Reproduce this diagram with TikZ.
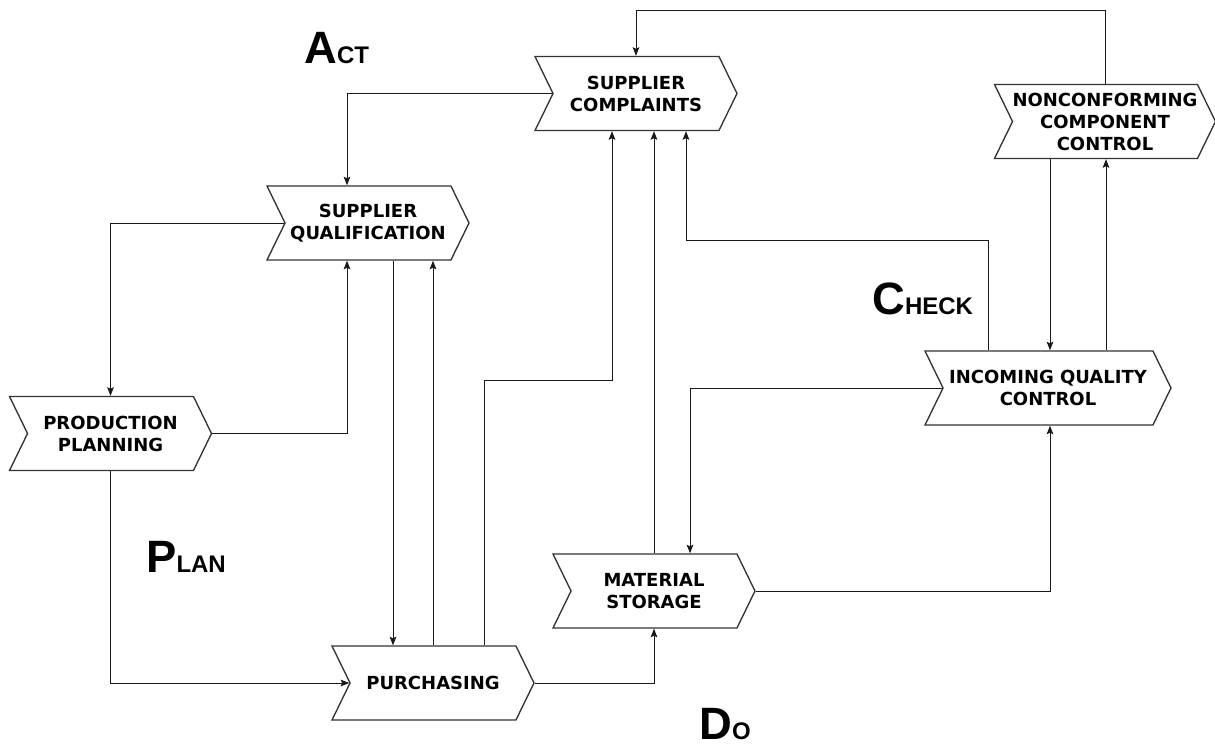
\documentclass[tikz,border=0pt]{standalone}
\usepackage{fontspec}
\setmainfont{DejaVu Sans}
\newfontfamily\phasefont{Liberation Sans}
\usetikzlibrary{shapes.symbols,arrows.meta}

\tikzset{
  stage/.style={signal, signal from=west, signal to=east, signal pointer angle=128,
    draw=black!80, line width=1pt, minimum width=151.5pt, minimum height=55.5pt,
    inner sep=0pt, align=center, font=\fontsize{13.5}{16.5}\selectfont\bfseries},
  link/.style={-{Stealth[length=6.5pt,width=5pt,inset=1.2pt]}, line width=0.75pt, black!90},
  phase/.style={anchor=base west, inner sep=0pt, font=\phasefont\bfseries}
}
\newcommand{\phaseword}[2]{{\fontsize{34}{34}\selectfont #1}{\fontsize{18}{18}\selectfont #2}}

\begin{document}
\begin{tikzpicture}[x=0.75pt, y=-0.75pt]
      \useasboundingbox (0,0) rectangle (1215,749);

      \node[stage] (pp) at (110.5,433.5) {PRODUCTION\\PLANNING};
      \node[stage] (sq) at (368,223) {SUPPLIER\\QUALIFICATION};
      \node[stage] (sc) at (636,93.5) {SUPPLIER\\COMPLAINTS};
      \node[stage] (nc) at (1105,121.5) {NONCONFORMING\\COMPONENT\\CONTROL};
      \node[stage, minimum width=184.5pt] (iqc) at (1048,388) {INCOMING QUALITY\\CONTROL};
      \node[stage] (ms) at (654,591) {MATERIAL\\STORAGE};
      \node[stage] (pu) at (433,683) {PURCHASING};

      \node[phase] (act) at (304,64) {\phaseword{A}{CT}};
      \node[phase] (plan) at (146,572) {\phaseword{P}{LAN}};
      \node[phase] (check) at (872,314) {\phaseword{C}{HECK}};
      \node[phase] (do) at (699,739) {\phaseword{D}{O}};

      % plan side
      \draw[link] (sc.west) -| (347,0 |- sq.north);
      \draw[link] (sq.west) -| (pp.north);
      \draw[link] (pp.east) -| (347,0 |- sq.south);
      \draw[link] (pp.south) |- (pu.west);
      \draw[link] (393,0 |- sq.south) -- (393,0 |- pu.north);
      \draw[link] (pu.north) -- (pu.north |- sq.south);

      % do side
      \draw[link] (484,0 |- pu.north) -- (484,380) -| (612,0 |- sc.south);
      \draw[link] (pu.east) -| (ms.south);
      \draw[link] (ms.north) -- (ms.north |- sc.south);
      \draw[link] (iqc.west) -| (690,0 |- ms.north);
      \draw[link] (ms.east) -| (1050,0 |- iqc.south);

      % check side
      \draw[link] (988,0 |- iqc.north) -- (988,240) -| (686,0 |- sc.south);
      \draw[link] (1050,0 |- nc.south) -- (1050,0 |- iqc.north);
      \draw[link] (1106,0 |- iqc.north) -- (1106,0 |- nc.south);
      \draw[link] (nc.north) -- (nc.north |- 0,11) -| (sc.north);
\end{tikzpicture}
\end{document}
